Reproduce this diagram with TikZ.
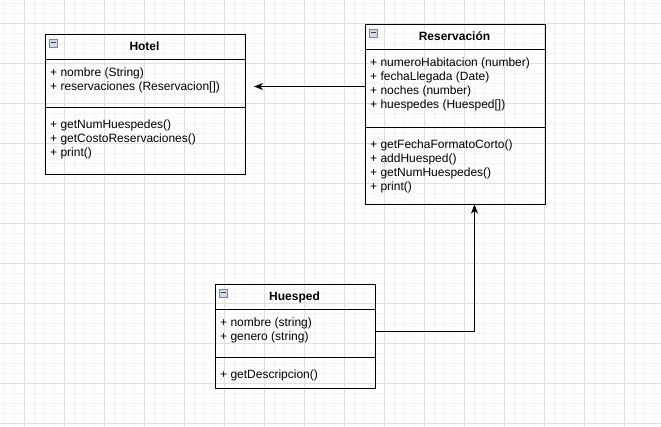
\documentclass[tikz,border=0pt]{standalone}
\usepackage{fontspec}
\setmainfont{Liberation Sans}
\usetikzlibrary{arrows.meta}
\definecolor{gridminor}{HTML}{F4F4F4}
\definecolor{gridmajor}{HTML}{E0E0E0}
\definecolor{iconfill}{HTML}{D3DAE4}
\definecolor{iconline}{HTML}{7C8796}
\definecolor{iconminus}{HTML}{3A3F47}

\tikzset{
  classbox/.style={draw=black, line width=1pt, rectangle, inner sep=0pt, anchor=north west},
  classtitle/.style={font=\fontsize{12}{14}\selectfont\bfseries, anchor=base, inner sep=0pt},
  member/.style={font=\fontsize{12}{14}\selectfont, anchor=base west, inner sep=0pt},
  sepline/.style={draw=black, line width=1pt},
  link/.style={draw=black, line width=1pt, -{Stealth[length=9pt,width=7pt,inset=2.5pt]}},
  classicon/.style={draw=iconline, fill=iconfill, line width=0.6pt, minimum width=8pt, minimum height=8pt, inner sep=0pt, rectangle, anchor=north west},
  minusline/.style={draw=iconminus, line width=1pt},
  gridthin/.style={draw=gridminor, line width=1pt},
  gridthick/.style={draw=gridmajor, line width=1pt},
}

\begin{document}
\begin{tikzpicture}[x=1pt,y=-1pt]
\useasboundingbox (0,0) rectangle (661,426);
\fill[white] (0,0) rectangle (661,426);
% grid
\foreach \x in {4,14,...,654} \draw[gridthin] (\x+0.5,0) -- (\x+0.5,426);
\foreach \y in {3,13,...,423} \draw[gridthin] (0,\y+0.5) -- (661,\y+0.5);
\foreach \x in {24,64,...,624} \draw[gridthick] (\x+0.5,0) -- (\x+0.5,426);
\foreach \y in {23,63,...,423} \draw[gridthick] (0,\y+0.5) -- (661,\y+0.5);

% ---------- Hotel ----------
\node[classbox, minimum width=200pt, minimum height=140pt] (hotel) at (44.5,33.5) {};
\draw[sepline] (hotel.north west) ++(0,26) coordinate (hotelH1) -- (hotelH1 -| hotel.east);
\draw[sepline] (hotel.north west) ++(0,74) coordinate (hotelH2) -- (hotelH2 -| hotel.east);
\node[classicon] (hotelI) at (49,38.5) {};
\draw[minusline] ([xshift=1.8pt]hotelI.west) -- ([xshift=-1.8pt]hotelI.east);
\node[classtitle] (hotelT) at (144.5,50.7) {Hotel};
\foreach \t [count=\i] in {{+ nombre (String)},{+ reservaciones (Reservacion[])}}
  \node[member] (hotelA\i) at (50,62.7+14*\i) {\t};
\foreach \t [count=\i] in {{+ getNumHuespedes()},{+ getCostoReservaciones()},{+ print()}}
  \node[member] (hotelM\i) at (50,114.3+14*\i) {\t};

% ---------- Reservacion ----------
\node[classbox, minimum width=180pt, minimum height=180pt] (resv) at (364.5,23.5) {};
\draw[sepline] (resv.north west) ++(0,26) coordinate (resvH1) -- (resvH1 -| resv.east);
\draw[sepline] (resv.north west) ++(0,104) coordinate (resvH2) -- (resvH2 -| resv.east);
\node[classicon] (resvI) at (369,28.5) {};
\draw[minusline] ([xshift=1.8pt]resvI.west) -- ([xshift=-1.8pt]resvI.east);
\node[classtitle] (resvT) at (454.5,40.7) {Reservación};
\foreach \t [count=\i] in {{+ numeroHabitacion (number)},{+ fechaLlegada (Date)},{+ noches (number)},{+ huespedes (Huesped[])}}
  \node[member] (resvA\i) at (370,52.7+14*\i) {\t};
\foreach \t [count=\i] in {{+ getFechaFormatoCorto()},{+ addHuesped()},{+ getNumHuespedes()},{+ print()}}
  \node[member] (resvM\i) at (370,134.3+14*\i) {\t};

% ---------- Huesped ----------
\node[classbox, minimum width=160pt, minimum height=104pt] (hues) at (214.5,283.5) {};
\draw[sepline] (hues.north west) ++(0,26) coordinate (huesH1) -- (huesH1 -| hues.east);
\draw[sepline] (hues.north west) ++(0,74) coordinate (huesH2) -- (huesH2 -| hues.east);
\node[classicon] (huesI) at (219,288.5) {};
\draw[minusline] ([xshift=1.8pt]huesI.west) -- ([xshift=-1.8pt]huesI.east);
\node[classtitle] (huesT) at (294.5,300.7) {Huesped};
\foreach \t [count=\i] in {{+ nombre (string)},{+ genero (string)}}
  \node[member] (huesA\i) at (220,312.7+14*\i) {\t};
\node[member] (huesM1) at (220,378.3) {+ getDescripcion()};

% ---------- connectors ----------
\coordinate (hotelTip) at (254,86.5);
\draw[link] (resv.west |- hotelTip) -- (hotelTip);
\coordinate (bend) at (474.5,331.5);
\draw[link] (hues.east |- bend) -- (bend) -- (resv.south -| bend);
\end{tikzpicture}
\end{document}
